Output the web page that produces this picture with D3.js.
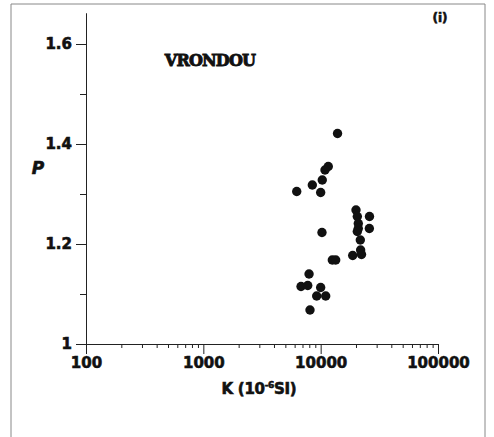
<!DOCTYPE html>
<html>
<head>
<meta charset="utf-8">
<script src="https://cdn.jsdelivr.net/npm/d3@7"></script>
<style>
  body { margin: 0; background: #fff; }
  svg { display: block; }
  .tick text { font-family: "DejaVu Sans", sans-serif; font-weight: bold; font-size: 15px; fill: #111; stroke: #111; stroke-width: 0.6px; }
  .axis path, .axis line { stroke: #222; stroke-width: 1; }
  .heavy { stroke: #111; stroke-width: 0.6px; }
</style>
</head>
<body>
<div id="chart"></div>
<script>
// magnetic susceptibility K (10^-6 SI) vs anisotropy degree P, Vrondou
const kValues = [13920, 11610, 10890, 10320, 8490, 6250, 10000,
  20000, 26070, 20530, 20930, 20930, 25990, 20530, 10260,
  21770, 21900, 18750, 22290, 12570, 13430,
  7960, 6800, 7760, 10000, 9250, 11040, 8110];
const pValues = [1.421, 1.355, 1.348, 1.328, 1.318, 1.305, 1.303,
  1.268, 1.255, 1.255, 1.241, 1.231, 1.231, 1.225, 1.223,
  1.208, 1.188, 1.177, 1.179, 1.168, 1.168,
  1.140, 1.115, 1.117, 1.113, 1.096, 1.096, 1.068];

const xMajorTicks = [100, 1000, 10000, 100000];
const yMajorTicks = [1, 1.2, 1.4, 1.6];
const yMinorTicks = [1.1, 1.3, 1.5];
const siteLabel = "VRONDOU";
const panelLabel = "(i)";

const width = 494, height = 437;
const margins = { top: 13, right: 56, bottom: 93, left: 86 };

const points = kValues.map((k, i) => ({ k, p: pValues[i] }));

const svg = d3.select('#chart').append('svg')
  .attr('width', width)
  .attr('height', height);

// outer frame of the scanned figure
svg.append('path')
  .attr('d', `M11,${height} L11,4 L485,4 L485,${height}`)
  .attr('fill', 'none')
  .attr('stroke', '#888')
  .attr('stroke-width', 1);

const xScale = d3.scaleLog()
  .domain([100, 100000])
  .range([margins.left, width - margins.right]);

const yScale = d3.scaleLinear()
  .domain([1, 1.662])
  .range([height - margins.bottom, margins.top]);

// minor ticks for the log axis
let xMinor = [];
xMajorTicks.slice(0, -1).forEach(d => {
  for (let m = 2; m < 10; m++) xMinor.push(d * m);
});

const x0 = yScale(1);

svg.append('g')
  .attr('class', 'axis')
  .attr('transform', `translate(0,${x0})`)
  .call(d3.axisBottom(xScale).tickValues(xMinor).tickSize(4).tickSizeOuter(0).tickFormat(''));

svg.append('g')
  .attr('class', 'axis')
  .attr('transform', `translate(0,${x0})`)
  .call(d3.axisBottom(xScale).tickValues(xMajorTicks).tickSize(10).tickSizeOuter(0)
    .tickPadding(3).tickFormat(d3.format('d')));

svg.append('g')
  .attr('class', 'axis')
  .attr('transform', `translate(${margins.left},0)`)
  .call(d3.axisLeft(yScale).tickValues(yMinorTicks).tickSize(6).tickSizeOuter(0).tickFormat(''));

svg.append('g')
  .attr('class', 'axis')
  .attr('transform', `translate(${margins.left},0)`)
  .call(d3.axisLeft(yScale).tickValues(yMajorTicks).tickSize(10).tickSizeOuter(0)
    .tickPadding(4).tickFormat(d => d === 1 ? '1' : d3.format('.1f')(d)));

// axis titles
const xTitle = svg.append('text')
  .attr('class', 'heavy')
  .attr('x', 259)
  .attr('y', 394)
  .attr('text-anchor', 'middle')
  .style('font-family', '"DejaVu Sans", sans-serif')
  .style('font-weight', 'bold')
  .style('font-size', '15px')
  .style('letter-spacing', '-0.3px')
  .attr('fill', '#111');
xTitle.append('tspan').text('K (10');
xTitle.append('tspan').attr('dy', -6).style('font-size', '9px').text('-6');
xTitle.append('tspan').attr('dy', 6).text('SI)');

svg.append('text')
  .attr('class', 'heavy')
  .attr('x', 38)
  .attr('y', 174)
  .attr('text-anchor', 'middle')
  .style('font-family', '"DejaVu Sans", sans-serif')
  .style('font-weight', 'bold')
  .style('font-style', 'italic')
  .style('font-size', '17px')
  .attr('fill', '#111')
  .text('P');

svg.append('text')
  .attr('x', 210)
  .attr('y', 66)
  .attr('text-anchor', 'middle')
  .style('font-family', '"DejaVu Serif", serif')
  .style('font-weight', 'bold')
  .style('font-size', '16px')
  .style('letter-spacing', '-0.8px')
  .style('stroke', '#111')
  .style('stroke-width', '0.9px')
  .attr('fill', '#111')
  .text(siteLabel);

svg.append('text')
  .attr('class', 'heavy')
  .attr('x', 440)
  .attr('y', 22)
  .attr('text-anchor', 'middle')
  .style('font-family', '"DejaVu Sans", sans-serif')
  .style('font-weight', 'bold')
  .style('font-size', '12px')
  .attr('fill', '#111')
  .text(panelLabel);

// data points
svg.append('g')
  .selectAll('circle')
  .data(points)
  .join('circle')
  .attr('cx', d => xScale(d.k))
  .attr('cy', d => yScale(d.p))
  .attr('r', 4.7)
  .attr('fill', '#111');
</script>
</body>
</html>
